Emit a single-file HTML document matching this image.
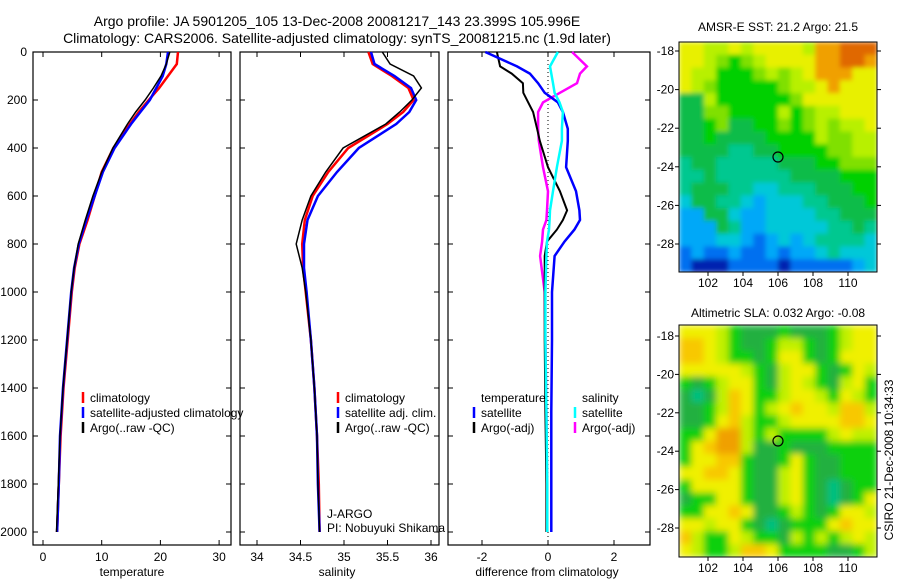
<!DOCTYPE html>
<html><head><meta charset="utf-8"><style>
body{margin:0;background:#fff;width:900px;height:580px;overflow:hidden}
svg{font-family:"Liberation Sans",sans-serif}
</style></head><body>
<svg id="c" width="900" height="580" xmlns="http://www.w3.org/2000/svg">
<defs>
<filter id="blurS" x="0" y="0" width="1" height="1"><feGaussianBlur stdDeviation="2.5" edgeMode="duplicate"/></filter>
<filter id="blurL" x="0" y="0" width="1" height="1"><feGaussianBlur stdDeviation="3.5" edgeMode="duplicate"/></filter>
<clipPath id="clipSST"><rect x="679" y="42" width="198" height="230"/></clipPath>
<clipPath id="clipSLA"><rect x="679" y="325" width="198" height="232"/></clipPath>
</defs>
<text x="337" y="26" font-size="14" text-anchor="middle">Argo profile: JA 5901205_105 13-Dec-2008 20081217_143 23.399S 105.996E</text>
<text x="337" y="43" font-size="14" text-anchor="middle">Climatology: CARS2006. Satellite-adjusted climatology: synTS_20081215.nc (1.9d later)</text>
</svg>
<script>
// ---- data ----
const tDepths=[0,50,100,150,200,250,300,400,500,600,700,800,900,1000,1200,1400,1600,1800,2000];
const tempClim=[23.0,22.8,21.3,19.8,18.0,16.3,14.8,12.0,10.0,8.8,7.6,6.2,5.4,4.9,4.2,3.5,3.0,2.7,2.4];
const tempSat=[21.3,21.0,20.4,19.3,18.2,16.6,15.0,12.2,10.2,8.8,7.4,6.1,5.3,4.8,4.1,3.4,2.9,2.7,2.4];
const tempArgo=[21.6,21.0,20.1,18.8,17.4,15.8,14.4,11.9,10.0,8.5,7.2,6.0,5.3,4.8,4.1,3.4,2.9,2.6,2.3];
const salClim=[35.28,35.33,35.55,35.74,35.80,35.68,35.50,35.05,34.82,34.64,34.55,34.52,34.53,34.56,34.62,34.66,34.69,34.71,34.72];
const salSat=[35.31,35.35,35.58,35.77,35.83,35.75,35.60,35.17,34.92,34.70,34.58,34.54,34.54,34.57,34.62,34.66,34.69,34.70,34.72];
const salArgo=[35.44,35.53,35.80,35.89,35.78,35.64,35.48,34.99,34.79,34.62,34.52,34.45,34.52,34.56,34.62,34.66,34.69,34.70,34.72];
const dDepths=[0,60,90,130,170,210,250,320,370,480,580,660,700,740,790,850,1000,1200,1500,1800,2000];
const dTempSat=[-1.9,-0.94,-0.55,-0.3,-0.1,0.3,0.45,0.6,0.6,0.55,0.85,0.95,0.97,0.8,0.5,0.2,0.12,0.12,0.1,0.1,0.1];
const dTempArgo=[-1.55,-1.45,-1.1,-0.76,-0.75,-0.6,-0.45,-0.33,-0.25,0,0.36,0.58,0.45,0.27,-0.03,-0.1,-0.1,-0.1,-0.08,-0.05,-0.05];
const dSalSat=[0.3,0.06,0.1,0.15,0.2,0.35,0.45,0.42,0.42,0.27,0.15,0.06,0.05,0.03,-0.03,-0.05,-0.08,-0.08,-0.05,-0.02,-0.02];
const dSalArgo=[0.73,1.18,0.97,0.88,0.36,-0.15,-0.3,-0.3,-0.28,-0.15,0,-0.03,-0.05,-0.15,-0.18,-0.24,-0.1,-0.08,-0.05,-0.03,-0.02];
const depthTicks=[0,200,400,600,800,1000,1200,1400,1600,1800,2000];
const tempTicks=[0,10,20,30];
const salTicks=[34,34.5,35,35.5,36];
const diffTicks=[-2,0,2];
const latTicks=[-18,-20,-22,-24,-26,-28];
const lonTicks=[102,104,106,108,110];
const sstGrid=[
"YYyyYyYYYYyooOOO","YYyLGLyYYYYooOOo","YyyGGGLyLyYoooYY","YyLGGGGGLyyYoYYY",
"ggyGGGGGGLYYYYYY","ggLLGGGGyGLyyYYY","ggGLggGGLGLyLyyY","ggGggggGGGGyLLyy",
"ggggTTggGGGGLLyy","TggTTTTTgggGGLLL","TTgTTTTTTggggGGG","TgggTTCCTTTgggGG",
"CggTTCBCCCTTgggG","BBggCBBCCCCTTggg","BBBgTBBCCCCCTTgT","BBBCCBbBCBCTTTTC",
"bBbbBbbBbBBCTCCC","bDDDbbbbDbbbbbBC"];
const slaGrid=[
"YYYyGgggGgggGyYY","ooYyGggGyyGgGyYY","ooYyGGgGYYGgGYYY","YYYYYyGgyYYGgGYy",
"GgGyYYGgyYyGgyYG","gTgyoYGGyYYyGYyG","ggGyoYGyYoYYyooy","ggGYoyGGyYYYYooY",
"GGYOOyGyGGGGyYyy","GYoOOyggGgggGGGG","GYYooGggGYGggGGG","YYooYGggyYGggGGG",
"GYYYYGggyYGgTgGG","gGGYYGggyYGgTgGY","GGYYoYggGyGgGYYy","YYyYYGgTgGGGYoYY",
"oyGGYyGGgyGyGyYy","YyGGyooYGGGGggGy"];
// ---- rendering ----
const NS="http://www.w3.org/2000/svg";
const svg=document.getElementById('c');
function mk(tag,attrs,parent){const e=document.createElementNS(NS,tag);for(const k in attrs)e.setAttribute(k,attrs[k]);(parent||svg).appendChild(e);return e;}
function txt(x,y,s,size,anchor,parent){const e=mk('text',{x:x,y:y,'font-size':size,'text-anchor':anchor},parent);e.textContent=s;return e;}
const yD=d=>52+d*0.24;
const TOP=52,BOT=545;
const xT=v=>43+v*5.87;
const xS=v=>257+(v-34)*87;
const xDf=v=>548+v*33;
function frame(x0,x1,name){
 const g=mk('g',{});
 
 
 mk('rect',{x:x0,y:TOP,width:x1-x0,height:BOT-TOP,fill:'none',stroke:'#000','stroke-width':1.2},g);
 depthTicks.forEach(d=>{mk('line',{x1:x0,x2:x0+5,y1:yD(d),y2:yD(d),stroke:'#000'},g);mk('line',{x1:x1-5,x2:x1,y1:yD(d),y2:yD(d),stroke:'#000'},g);});
 return g;
}
function line(xs,ds,xf,color,w,name,parent){
 const p=xs.map((v,i)=>xf(v).toFixed(1)+','+yD(ds[i]).toFixed(1)).join(' ');
 const e=mk('polyline',{points:p,fill:'none',stroke:color,'stroke-width':w},parent);
 
 
 return e;
}
// panel 1
const g1=frame(33,231,'temperature-panel');
depthTicks.forEach(d=>{const t=txt(27,yD(d)+4,String(d),12,'end');});
tempTicks.forEach(v=>{mk('line',{x1:xT(v),x2:xT(v),y1:BOT,y2:BOT-5,stroke:'#000'},g1);mk('line',{x1:xT(v),x2:xT(v),y1:TOP,y2:TOP+5,stroke:'#000'},g1);const t=txt(xT(v),561,String(v),12,'middle');});
line(tempClim,tDepths,xT,'#f00',2.5,'temp-climatology-line',g1);
line(tempSat,tDepths,xT,'#00f',2.5,'temp-satellite-line',g1);
line(tempArgo,tDepths,xT,'#000',1.5,'temp-argo-line',g1);
const xl1=txt(132,576,'temperature',12,'middle');
// panel 2
const g2=frame(240,439,'salinity-panel');
salTicks.forEach(v=>{mk('line',{x1:xS(v),x2:xS(v),y1:BOT,y2:BOT-5,stroke:'#000'},g2);mk('line',{x1:xS(v),x2:xS(v),y1:TOP,y2:TOP+5,stroke:'#000'},g2);const t=txt(xS(v),561,String(v),12,'middle');});
line(salClim,tDepths,xS,'#f00',2.5,'sal-climatology-line',g2);
line(salSat,tDepths,xS,'#00f',2.5,'sal-satellite-line',g2);
line(salArgo,tDepths,xS,'#000',1.5,'sal-argo-line',g2);
const xl2=txt(337,576,'salinity',12,'middle');
const pi1=txt(327,518,'J-ARGO',12,'start');
const pi2=txt(327,532,'PI: Nobuyuki Shikama',12,'start');
// panel 3
const g3=frame(448,650,'difference-panel');
diffTicks.forEach(v=>{mk('line',{x1:xDf(v),x2:xDf(v),y1:BOT,y2:BOT-5,stroke:'#000'},g3);mk('line',{x1:xDf(v),x2:xDf(v),y1:TOP,y2:TOP+5,stroke:'#000'},g3);const t=txt(xDf(v),561,String(v),12,'middle');});
mk('line',{x1:xDf(0),x2:xDf(0),y1:TOP,y2:BOT,stroke:'#000','stroke-dasharray':'1,3'},g3);
line(dSalArgo,dDepths,xDf,'#f0f',2.5,'sal-diff-argo-line',g3);
line(dTempArgo,dDepths,xDf,'#000',2,'temp-diff-argo-line',g3);
line(dTempSat,dDepths,xDf,'#00f',2.5,'temp-diff-satellite-line',g3);
line(dSalSat,dDepths,xDf,'#0ff',2.5,'sal-diff-satellite-line',g3);
const xl3=txt(547,576,'difference from climatology',12,'middle');
// legends
function legend(x,y,items,name){
 const g=mk('g',{});
 
 
 items.forEach((it,i)=>{const yy=y+i*15;if(it[1])mk('line',{x1:x,x2:x,y1:yy-10,y2:yy+1,stroke:it[1],'stroke-width':2.5},g);txt(x+7,yy,it[0],12,'start',g);});
}
legend(83,402,[['climatology','#f00'],['satellite-adjusted climatology','#00f'],['Argo(..raw -QC)','#000']],'temperature-legend');
legend(338,402,[['climatology','#f00'],['satellite adj. clim.','#00f'],['Argo(..raw -QC)','#000']],'salinity-legend');
legend(474,402,[['temperature',null],['satellite','#00f'],['Argo(-adj)','#000']],'diff-temperature-legend');
legend(575,402,[['salinity',null],['satellite','#0ff'],['Argo(-adj)','#f0f']],'diff-salinity-legend');
// maps
const sstPal={O:'#e06800',o:'#f0a000',Y:'#e8f000',y:'#b8f000',L:'#80e000',G:'#00d000',g:'#10bc48',T:'#00c890',C:'#00c8d8',B:'#00a8f8',b:'#0070f0',D:'#0020b0'};
const slaPal={O:'#f0a000',o:'#f8c800',Y:'#f0f000',y:'#c0f000',G:'#10d010',g:'#20b040',T:'#00c080'};
function map(x0,y0,x1,y1,grid,pal,latTop,latStep,name,cy,clip,filt){
 const g=mk('g',{});
 
 
 const cg=mk('g',{'clip-path':'url(#'+clip+')'},g);
 const fg=mk('g',{filter:'url(#'+filt+')'},cg);
 const rows=grid.length,cols=grid[0].length,cw=(x1-x0)/cols,ch=(y1-y0)/rows;
 grid.forEach((row,r)=>{for(let c=0;c<cols;c++){mk('rect',{x:(x0+c*cw).toFixed(2),y:(y0+r*ch).toFixed(2),width:(cw+0.6).toFixed(2),height:(ch+0.6).toFixed(2),fill:pal[row[c]]},fg);}});
 mk('rect',{x:x0,y:y0,width:x1-x0,height:y1-y0,fill:'none',stroke:'#000'},g);
 const xL=v=>708+(v-102)*17.5;
 lonTicks.forEach(v=>{mk('line',{x1:xL(v),x2:xL(v),y1:y1,y2:y1+4,stroke:'#000'},g);txt(xL(v),y1+15,String(v),12,'middle',g);});
 latTicks.forEach(v=>{const yy=latTop+(-18-v)/2*latStep;mk('line',{x1:x0-4,x2:x0,y1:yy,y2:yy,stroke:'#000'},g);mk('line',{x1:x1,x2:x1+4,y1:yy,y2:yy,stroke:'#000'},g);txt(x0-5,yy+4,String(v),12,'end',g);});
 const cc=mk('circle',{cx:778,cy:cy,r:5,fill:'none',stroke:'#000','stroke-width':1.2},g);
 
 
}
map(679,42,877,272,sstGrid,sstPal,51,38.6,'sst-map',157,'clipSST','blurS');
map(679,325,877,557,slaGrid,slaPal,336,38.4,'sla-map',441,'clipSLA','blurL');
const t1=txt(778,31,'AMSR-E SST: 21.2  Argo: 21.5',12,'middle');
const t2=txt(778,317,'Altimetric SLA: 0.032  Argo: -0.08',12,'middle');
const cr=txt(0,0,'CSIRO 21-Dec-2008 10:34:33',12,'middle');cr.setAttribute('transform','translate(893,460) rotate(-90)');
</script>
</body></html>
